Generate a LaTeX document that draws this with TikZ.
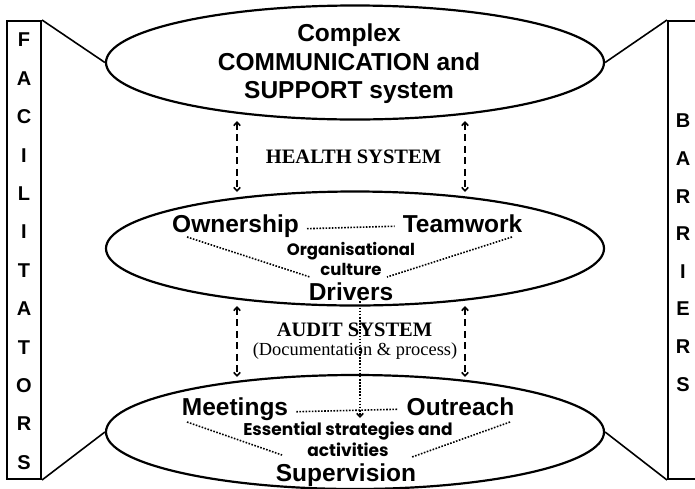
\documentclass[tikz,border=0pt]{standalone}
\usepackage{fontspec}
\setmainfont{Liberation Serif}
\newfontfamily\arialfont{Liberation Sans}
\newfontfamily\handfont{Poppins}
\usepackage{tikz}
\usetikzlibrary{shapes.geometric,arrows.meta}
\definecolor{ink}{HTML}{000000}
\newcommand{\Heavy}{\arialfont\bfseries\fontsize{24.5}{28.5}\selectfont}

\begin{document}
\begin{tikzpicture}[x=1pt,y=-1pt,
  blob/.style={draw=ink,ellipse,line width=2.2pt,minimum width=498pt,minimum height=114pt,inner sep=0pt},
  sidebox/.style={draw=ink,line width=2pt,minimum width=34pt,minimum height=458pt,inner sep=0pt},
  letter/.style={font=\arialfont\bfseries\fontsize{20}{24}\selectfont,inner sep=0pt},
  word/.style={font=\Heavy,anchor=base,inner sep=1pt},
  hand/.style={font=\handfont\bfseries\fontsize{16.5}{20}\selectfont,align=center,inner sep=0pt},
  serif/.style={font=\bfseries\fontsize{20.5}{22}\selectfont,anchor=base},
  dotline/.style={line width=1.6pt,dash pattern=on 1.6pt off 1.5pt},
  link/.style={line width=1.6pt,dash pattern=on 7pt off 4.5pt,{Straight Barb[length=3.5pt,width=6.5pt]}-{Straight Barb[length=3.5pt,width=6.5pt]}}]
  \path[use as bounding box,clip] (0,0) rectangle (695,488);

  % the three levels
  \node[blob] (comm) at (355,62.5) {};
  \node[blob] (drive) at (355,248.5) {};
  \node[blob] (strat) at (355,432) {};

  % facilitators and barriers
  \node[sidebox] (fac) at (24,250) {};
  \node[sidebox,minimum width=50pt] (bar) at (693,250) {};
  \foreach \ch [count=\i] in {F,A,C,I,L,I,T,A,T,O,R,S}
    \node[letter] (fac\i) at (24,{40+38.4*(\i-1)}) {\ch};
  \foreach \ch [count=\i] in {B,A,R,R,I,E,R,S}
    \node[letter] (bar\i) at (683,{121+37.6*(\i-1)}) {\ch};
  \draw[line width=1.6pt] (fac.north east) -- (comm.west);
  \draw[line width=1.6pt] (fac.south east) -- (strat.west);
  \draw[line width=1.6pt] (bar.north west) -- (comm.east);
  \draw[line width=1.6pt] (bar.south west) -- (strat.east);

  % top level
  \node[font=\Heavy,align=center,inner sep=0pt] (commtext) at (349,64)
    {Complex\\COMMUNICATION and\\SUPPORT system};

  \node[serif] (health) at (353.5,163) {HEALTH SYSTEM};
  \coordinate (h1) at (237,121);
  \coordinate (h2) at (237,192);
  \coordinate (h3) at (465,121);
  \coordinate (h4) at (465,192);
  \draw[link] (h1) -- (h2);
  \draw[link] (h3) -- (h4);

  % middle level
  \node[word] (own) at (235.5,232) {Ownership};
  \node[word] (team) at (462.5,232) {Teamwork};
  \node[hand] (culture) at (351,259) {Organisational\\culture};
  \node[word] (drv) at (351,300) {Drivers};
  \coordinate (ownfoot) at (187,237);
  \coordinate (cultl) at (310,277);
  \coordinate (teamfoot) at (512,237);
  \coordinate (cultr) at (387,277);
  \draw[dotline] ([xshift=7pt,yshift=-3pt]own.east) -- ([xshift=-7pt,yshift=-3pt]team.west);
  \draw[dotline] (ownfoot) -- (cultl);
  \draw[dotline] (teamfoot) -- (cultr);

  \node[serif] (audit) at (354.5,336) {AUDIT SYSTEM};
  \node[font=\fontsize{18.4}{22}\selectfont,anchor=base] (docu) at (355,355) {(Documentation \& process)};
  \coordinate (a1) at (237,306);
  \coordinate (a2) at (237,377);
  \coordinate (a3) at (465,306);
  \coordinate (a4) at (465,377);
  \draw[link] (a1) -- (a2);
  \draw[link] (a3) -- (a4);

  % bottom level
  \node[word] (meet) at (235,415) {Meetings};
  \node[word] (reach) at (460.5,415) {Outreach};
  \node[hand,font=\handfont\bfseries\fontsize{17}{21.5}\selectfont] (ess) at (348,439) {Essential strategies and\\activities};
  \node[word,inner sep=0pt] (sup) at (346,481) {Supervision};
  \coordinate (meetfoot) at (187,422);
  \coordinate (essl) at (282,455);
  \coordinate (reachfoot) at (510,422);
  \coordinate (essr) at (412,457);
  \draw[dotline] ([xshift=7pt,yshift=-3pt]meet.east) -- ([xshift=-7pt,yshift=-3pt]reach.west);
  \draw[dotline] (meetfoot) -- (essl);
  \draw[dotline] (reachfoot) -- (essr);

  % drivers feed the strategies
  \coordinate (essin) at (360,418);
  \draw[dotline,-{Straight Barb[length=3.5pt,width=6.5pt]}] ([xshift=9pt]drv.south) -- (essin);
\end{tikzpicture}
\end{document}
